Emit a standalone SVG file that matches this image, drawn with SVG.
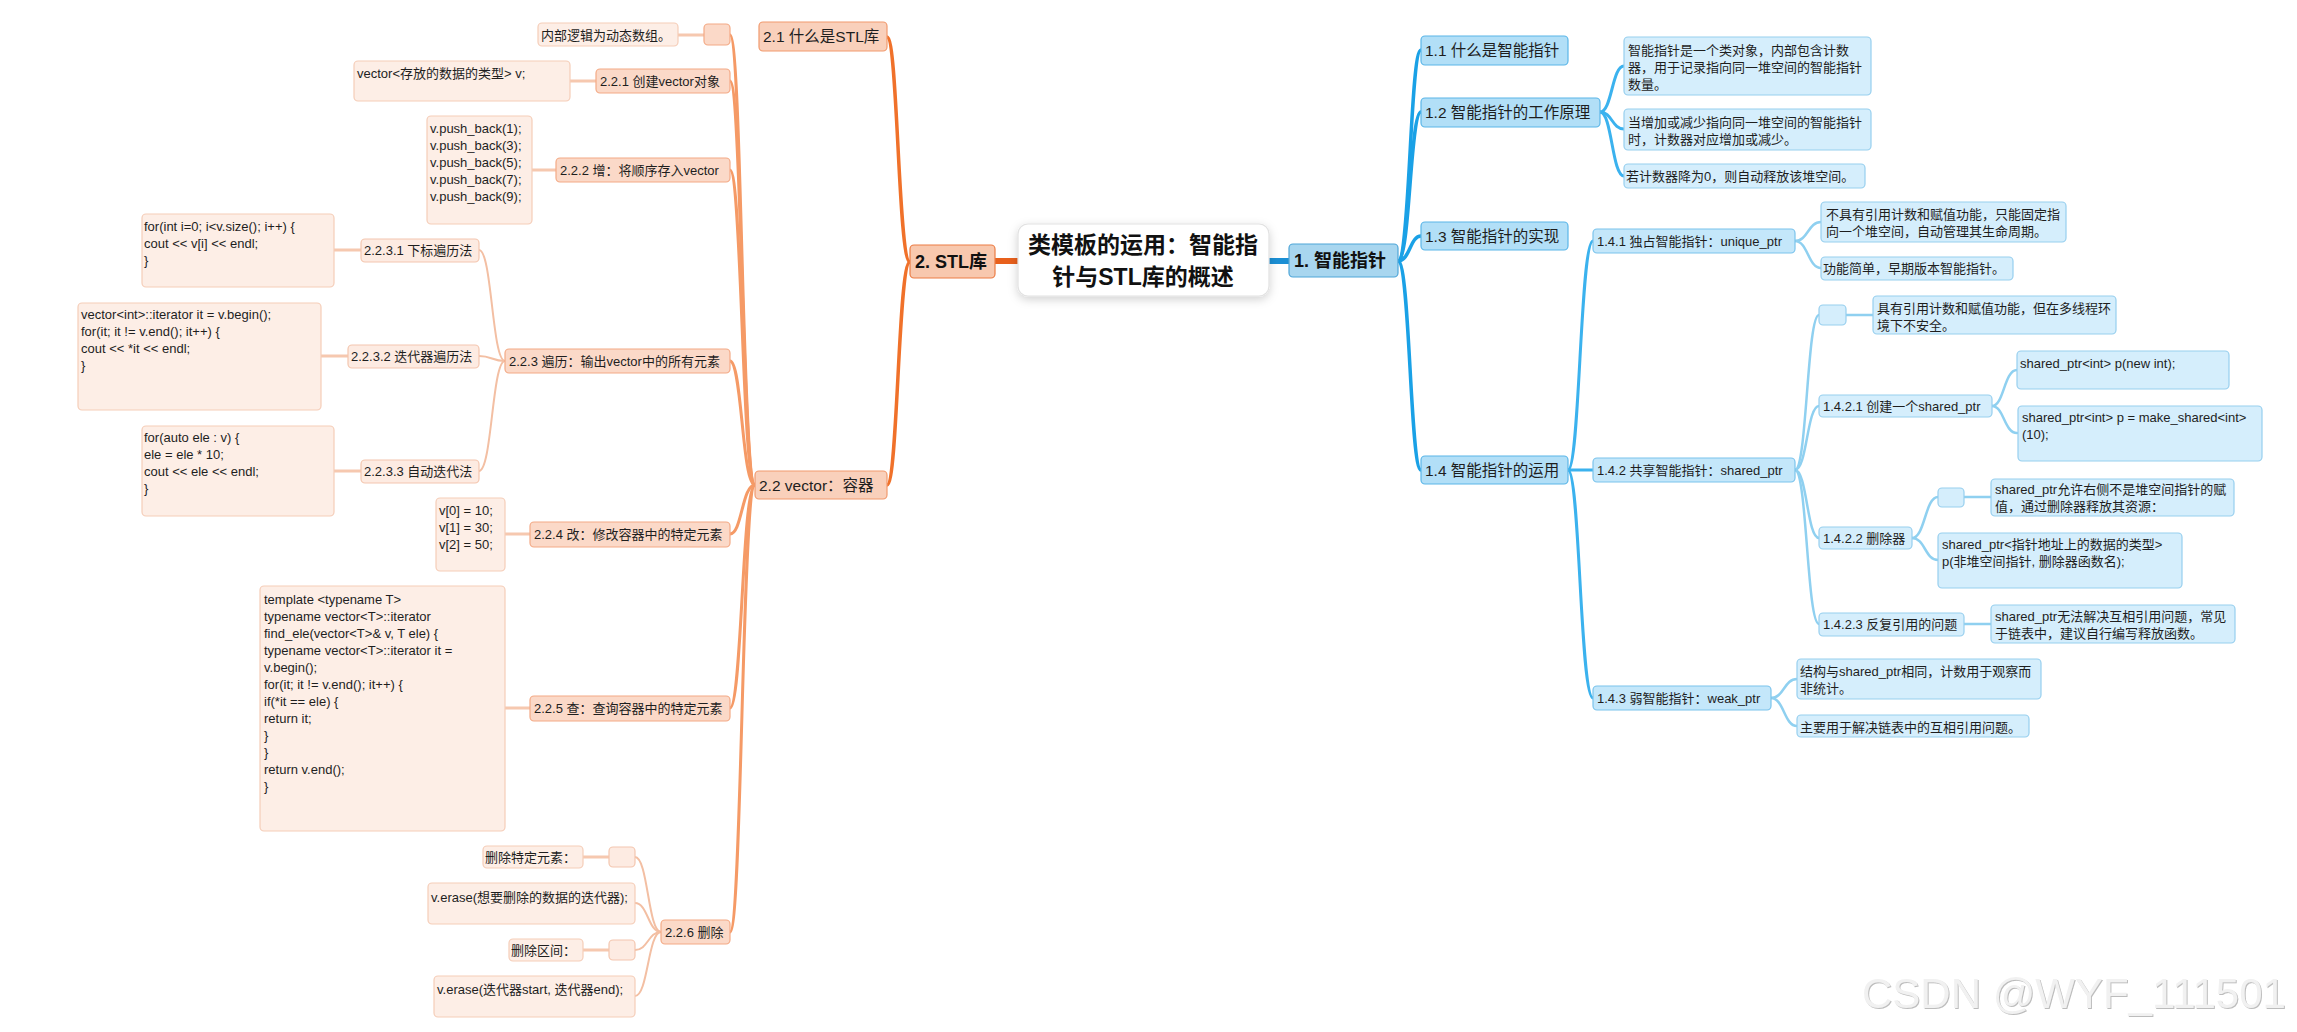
<svg xmlns="http://www.w3.org/2000/svg" width="2297" height="1032" viewBox="0 0 2297 1032">
<defs>
<filter id="sh" x="-20%" y="-30%" width="140%" height="170%"><feDropShadow dx="0" dy="3" stdDeviation="5" flood-color="#000" flood-opacity="0.18"/></filter>
<filter id="wm" x="-5%" y="-20%" width="110%" height="140%"><feDropShadow dx="1" dy="1" stdDeviation="0.6" flood-color="#b5b5b5" flood-opacity="0.9"/></filter>
<style>
text{font-family:"Liberation Sans","Noto Sans CJK SC",sans-serif;fill:#1e1e1e;font-size:13px}
.b18{font-size:18px;font-weight:bold;fill:#111}
.s15{font-size:15.5px}
.ctr{font-size:23px;font-weight:bold;fill:#111;text-anchor:middle}
rect{stroke-width:1.2}
.oL1{fill:#F8C8AE;stroke:#EC7C44}
.oL2{fill:#F9D0BB;stroke:#F19A6E}
.oL3{fill:#FBD9C8;stroke:#F3AA86}
.oL4{fill:#FDEBE2;stroke:#F4C6AF}
.oLf{fill:#FDEEE6;stroke:#F5CDB8}
.bL1{fill:#A8D6EF;stroke:#4FA6D8}
.bL2{fill:#B2DFF7;stroke:#5BB6E8}
.bL3{fill:#C4E7FA;stroke:#7AC3EC}
.bL4{fill:#D5EEFC;stroke:#97CFEE}
.c{fill:none;stroke-linecap:round}
.co0{stroke:#E8601C;stroke-width:6}
.co1{stroke:#F0712A;stroke-width:3.5}
.co2{stroke:#F59A66;stroke-width:3}
.co3{stroke:#F3BFA3;stroke-width:2}
.co4{stroke:#F6C8AF;stroke-width:3}
.cb0{stroke:#1B8FD4;stroke-width:6}
.cb1{stroke:#1AA1E6;stroke-width:3.5}
.cb2{stroke:#3BB2EE;stroke-width:3}
.cb3{stroke:#8FD0F0;stroke-width:2.5}
</style>
</defs>
<rect x="0" y="0" width="2297" height="1032" fill="#ffffff" stroke="none"/>

<g id="connectors">
<path class="c co0" d="M995 261 L1018 261"/>
<path class="c cb0" d="M1269 261 L1289 261"/>
<path class="c co1" d="M910 262 C898 262 898 37 887 37"/>
<path class="c co1" d="M910 262 C898 262 898 485 887 485"/>
<path class="c co2" d="M755 485 C742 485 742 35 730 35"/>
<path class="c co2" d="M755 485 C742 485 742 81 730 81"/>
<path class="c co2" d="M755 485 C742 485 742 170 730 170"/>
<path class="c co2" d="M755 485 C742 485 742 361 730 361"/>
<path class="c co2" d="M755 485 C742 485 742 534 730 534"/>
<path class="c co2" d="M755 485 C742 485 742 708 730 708"/>
<path class="c co2" d="M755 485 C742 485 742 932 730 932"/>
<path class="c co3" d="M505 361 C492 361 492 250 479 250"/>
<path class="c co3" d="M505 361 C492 361 492 356 479 356"/>
<path class="c co3" d="M505 361 C492 361 492 471 479 471"/>
<path class="c co3" d="M661 932 C648 932 648 857 635 857"/>
<path class="c co3" d="M661 932 C648 932 648 903 635 903"/>
<path class="c co3" d="M661 932 C648 932 648 950 635 950"/>
<path class="c co3" d="M661 932 C648 932 648 996 635 996"/>
<path class="c co4" d="M678 35 L704 35"/>
<path class="c co4" d="M570 81 L596 81"/>
<path class="c co4" d="M532 170 L556 170"/>
<path class="c co4" d="M334 250 L361 250"/>
<path class="c co4" d="M321 356 L348 356"/>
<path class="c co4" d="M334 471 L361 471"/>
<path class="c co4" d="M505 534 L530 534"/>
<path class="c co4" d="M505 708 L530 708"/>
<path class="c co4" d="M583 857 L609 857"/>
<path class="c co4" d="M583 950 L609 950"/>

<path class="c cb1" d="M1398 261 C1410 261 1410 50 1421 50"/>
<path class="c cb1" d="M1398 261 C1410 261 1410 112 1421 112"/>
<path class="c cb1" d="M1398 261 C1410 261 1410 236 1421 236"/>
<path class="c cb1" d="M1398 261 C1410 261 1410 470 1421 470"/>
<path class="c cb2" d="M1600 112 C1612 112 1612 66 1624 66"/>
<path class="c cb2" d="M1600 112 C1612 112 1612 129 1624 129"/>
<path class="c cb2" d="M1600 112 C1612 112 1612 176 1624 176"/>
<path class="c cb2" d="M1568 470 C1580 470 1580 241 1593 241"/>
<path class="c cb2" d="M1568 470 C1580 470 1580 470 1593 470"/>
<path class="c cb2" d="M1568 470 C1580 470 1580 698 1593 698"/>
<path class="c cb3" d="M1795 241 C1808 241 1808 222 1821 222"/>
<path class="c cb3" d="M1795 241 C1808 241 1808 268 1821 268"/>
<path class="c cb3" d="M1795 470 C1807 470 1807 315 1819 315"/>
<path class="c cb3" d="M1795 470 C1807 470 1807 406 1819 406"/>
<path class="c cb3" d="M1795 470 C1807 470 1807 538 1819 538"/>
<path class="c cb3" d="M1795 470 C1807 470 1807 624 1819 624"/>
<path class="c cb3" d="M1992 406 C2004 406 2004 370 2017 370"/>
<path class="c cb3" d="M1992 406 C2004 406 2004 433 2017 433"/>
<path class="c cb3" d="M1912 538 C1925 538 1925 497 1938 497"/>
<path class="c cb3" d="M1912 538 C1925 538 1925 560 1938 560"/>
<path class="c cb3" d="M1771 698 C1784 698 1784 679 1797 679"/>
<path class="c cb3" d="M1771 698 C1784 698 1784 726 1797 726"/>
<path class="c cb3" d="M1846 315 L1873 315"/>
<path class="c cb3" d="M1964 497 L1991 497"/>
<path class="c cb3" d="M1964 624 L1991 624"/>
</g>

<g id="central"><rect x="1018" y="224" width="251" height="72" rx="10" fill="#ffffff" stroke="#e2e2e2" filter="url(#sh)"/><text class="ctr" x="1143" y="253">类模板的运用：智能指</text><text class="ctr" x="1143" y="285">针与STL库的概述</text></g>

<g id="n2"><rect class="oL1" x="910" y="245" width="85" height="33" rx="4"/><text class="b18" x="915" y="268">2. STL库</text></g>
<g id="n2_1"><rect class="oL2" x="759" y="22" width="128" height="29" rx="4"/><text class="s15" x="763" y="42">2.1 什么是STL库</text></g>
<g id="n2_2"><rect class="oL2" x="755" y="471" width="132" height="28" rx="4"/><text class="s15" x="759" y="490.5">2.2 vector：容器</text></g>

<g id="e0"><rect class="oL3" x="704" y="24" width="26" height="21" rx="4"/></g>
<g id="n221"><rect class="oL3" x="596" y="69" width="134" height="24" rx="4"/><text x="600" y="85.5">2.2.1 创建vector对象</text></g>
<g id="n222"><rect class="oL3" x="556" y="158" width="174" height="24" rx="4"/><text x="560" y="174.5">2.2.2 增：将顺序存入vector</text></g>
<g id="n223"><rect class="oL3" x="505" y="349" width="225" height="24" rx="4"/><text x="509" y="365.5">2.2.3 遍历：输出vector中的所有元素</text></g>
<g id="n224"><rect class="oL3" x="530" y="522" width="200" height="25" rx="4"/><text x="534" y="539">2.2.4 改：修改容器中的特定元素</text></g>
<g id="n225"><rect class="oL3" x="530" y="696" width="200" height="25" rx="4"/><text x="534" y="713">2.2.5 查：查询容器中的特定元素</text></g>
<g id="n226"><rect class="oL3" x="661" y="920" width="69" height="24" rx="4"/><text x="665" y="936.5">2.2.6 删除</text></g>

<g id="n2231"><rect class="oL4" x="361" y="239" width="118" height="23" rx="4"/><text x="364" y="255">2.2.3.1 下标遍历法</text></g>
<g id="n2232"><rect class="oL4" x="348" y="345" width="131" height="23" rx="4"/><text x="351" y="361">2.2.3.2 迭代器遍历法</text></g>
<g id="n2233"><rect class="oL4" x="361" y="460" width="118" height="23" rx="4"/><text x="364" y="476">2.2.3.3 自动迭代法</text></g>
<g id="e1"><rect class="oL4" x="609" y="847" width="26" height="20" rx="4"/></g>
<g id="e2"><rect class="oL4" x="609" y="940" width="26" height="20" rx="4"/></g>

<g id="l0"><rect class="oLf" x="538" y="23" width="140" height="23" rx="4"/><text x="541" y="39.5">内部逻辑为动态数组。</text></g>
<g id="l221"><rect class="oLf" x="354" y="61" width="216" height="40" rx="4"/><text x="357" y="77.5">vector&lt;存放的数据的类型&gt; v;</text></g>
<g id="l222"><rect class="oLf" x="427" y="116" width="105" height="108" rx="4"/><text x="430" y="133">v.push_back(1);</text><text x="430" y="150">v.push_back(3);</text><text x="430" y="167">v.push_back(5);</text><text x="430" y="184">v.push_back(7);</text><text x="430" y="201">v.push_back(9);</text></g>
<g id="l2231"><rect class="oLf" x="142" y="214" width="192" height="73" rx="4"/><text x="144" y="230.5">for(int i=0; i&lt;v.size(); i++) {</text><text x="144" y="247.5">cout &lt;&lt; v[i] &lt;&lt; endl;</text><text x="144" y="264.5">}</text></g>
<g id="l2232"><rect class="oLf" x="78" y="303" width="243" height="107" rx="4"/><text x="81" y="318.5">vector&lt;int&gt;::iterator it = v.begin();</text><text x="81" y="335.5">for(it; it != v.end(); it++) {</text><text x="81" y="352.5">cout &lt;&lt; *it &lt;&lt; endl;</text><text x="81" y="369.5">}</text></g>
<g id="l2233"><rect class="oLf" x="142" y="426" width="192" height="90" rx="4"/><text x="144" y="441.5">for(auto ele : v) {</text><text x="144" y="458.5">ele = ele * 10;</text><text x="144" y="475.5">cout &lt;&lt; ele &lt;&lt; endl;</text><text x="144" y="492.5">}</text></g>
<g id="l224"><rect class="oLf" x="436" y="498" width="69" height="73" rx="4"/><text x="439" y="514.5">v[0] = 10;</text><text x="439" y="531.5">v[1] = 30;</text><text x="439" y="548.5">v[2] = 50;</text></g>
<g id="l225"><rect class="oLf" x="260" y="586" width="245" height="245" rx="4"/>
<text x="264" y="603.5">template &lt;typename T&gt;</text>
<text x="264" y="620.5">typename vector&lt;T&gt;::iterator</text>
<text x="264" y="637.5">find_ele(vector&lt;T&gt;&amp; v, T ele) {</text>
<text x="264" y="654.5">typename vector&lt;T&gt;::iterator it =</text>
<text x="264" y="671.5">v.begin();</text>
<text x="264" y="688.5">for(it; it != v.end(); it++) {</text>
<text x="264" y="705.5">if(*it == ele) {</text>
<text x="264" y="722.5">return it;</text>
<text x="264" y="739.5">}</text>
<text x="264" y="756.5">}</text>
<text x="264" y="773.5">return v.end();</text>
<text x="264" y="790.5">}</text></g>
<g id="l2261"><rect class="oLf" x="483" y="846" width="100" height="22" rx="4"/><text x="485" y="862">删除特定元素：</text></g>
<g id="l2262"><rect class="oLf" x="428" y="883" width="207" height="41" rx="4"/><text x="431" y="901.5">v.erase(想要删除的数据的迭代器);</text></g>
<g id="l2263"><rect class="oLf" x="509" y="939" width="74" height="22" rx="4"/><text x="511" y="955">删除区间：</text></g>
<g id="l2264"><rect class="oLf" x="434" y="976" width="201" height="41" rx="4"/><text x="437" y="993.5">v.erase(迭代器start, 迭代器end);</text></g>

<g id="n1"><rect class="bL1" x="1289" y="244" width="109" height="33" rx="4"/><text class="b18" x="1294" y="267">1. 智能指针</text></g>
<g id="n11"><rect class="bL2" x="1421" y="36" width="147" height="29" rx="4"/><text class="s15" x="1425" y="56">1.1 什么是智能指针</text></g>
<g id="n12"><rect class="bL2" x="1421" y="98" width="179" height="29" rx="4"/><text class="s15" x="1425" y="118">1.2 智能指针的工作原理</text></g>
<g id="n13"><rect class="bL2" x="1421" y="222" width="147" height="28" rx="4"/><text class="s15" x="1425" y="241.5">1.3 智能指针的实现</text></g>
<g id="n14"><rect class="bL2" x="1421" y="456" width="147" height="28" rx="4"/><text class="s15" x="1425" y="475.5">1.4 智能指针的运用</text></g>

<g id="la"><rect class="bL4" x="1624" y="37" width="247" height="58" rx="4"/><text x="1628" y="54.5">智能指针是一个类对象，内部包含计数</text><text x="1628" y="71.5">器，用于记录指向同一堆空间的智能指针</text><text x="1628" y="88.5">数量。</text></g>
<g id="lb"><rect class="bL4" x="1624" y="109" width="247" height="41" rx="4"/><text x="1628" y="126.5">当增加或减少指向同一堆空间的智能指针</text><text x="1628" y="143.5">时，计数器对应增加或减少。</text></g>
<g id="lc"><rect class="bL4" x="1624" y="164" width="241" height="24" rx="4"/><text x="1626" y="180.5">若计数器降为0，则自动释放该堆空间。</text></g>

<g id="n141"><rect class="bL3" x="1593" y="229" width="202" height="24" rx="4"/><text x="1597" y="245.5">1.4.1 独占智能指针：unique_ptr</text></g>
<g id="n142"><rect class="bL3" x="1593" y="458" width="202" height="24" rx="4"/><text x="1597" y="474.5">1.4.2 共享智能指针：shared_ptr</text></g>
<g id="n143"><rect class="bL3" x="1593" y="686" width="178" height="24" rx="4"/><text x="1597" y="702.5">1.4.3 弱智能指针：weak_ptr</text></g>

<g id="l1411"><rect class="bL4" x="1821" y="202" width="245" height="40" rx="4"/><text x="1826" y="218.5">不具有引用计数和赋值功能，只能固定指</text><text x="1826" y="236">向一个堆空间，自动管理其生命周期。</text></g>
<g id="l1412"><rect class="bL4" x="1821" y="257" width="192" height="23" rx="4"/><text x="1823" y="273">功能简单，早期版本智能指针。</text></g>
<g id="e3"><rect class="bL4" x="1819" y="305" width="27" height="20" rx="4"/></g>
<g id="l1420"><rect class="bL4" x="1873" y="296" width="243" height="38" rx="4"/><text x="1877" y="312.5">具有引用计数和赋值功能，但在多线程环</text><text x="1877" y="329.5">境下不安全。</text></g>
<g id="n1421"><rect class="bL4" x="1819" y="395" width="173" height="22" rx="4"/><text x="1823" y="410.5">1.4.2.1 创建一个shared_ptr</text></g>
<g id="l14211"><rect class="bL4" x="2017" y="351" width="212" height="38" rx="4"/><text x="2020" y="367.5">shared_ptr&lt;int&gt; p(new int);</text></g>
<g id="l14212"><rect class="bL4" x="2018" y="406" width="244" height="55" rx="4"/><text x="2022" y="421.5">shared_ptr&lt;int&gt; p = make_shared&lt;int&gt;</text><text x="2022" y="439">(10);</text></g>
<g id="n1422"><rect class="bL4" x="1819" y="527" width="93" height="22" rx="4"/><text x="1823" y="542.5">1.4.2.2 删除器</text></g>
<g id="e4"><rect class="bL4" x="1938" y="488" width="26" height="19" rx="4"/></g>
<g id="l14221"><rect class="bL4" x="1991" y="479" width="243" height="37" rx="4"/><text x="1995" y="493.5">shared_ptr允许右侧不是堆空间指针的赋</text><text x="1995" y="511">值，通过删除器释放其资源：</text></g>
<g id="l14222"><rect class="bL4" x="1938" y="533" width="244" height="55" rx="4"/><text x="1942" y="548.5">shared_ptr&lt;指针地址上的数据的类型&gt;</text><text x="1942" y="566">p(非堆空间指针, 删除器函数名);</text></g>
<g id="n1423"><rect class="bL4" x="1819" y="613" width="145" height="23" rx="4"/><text x="1823" y="629">1.4.2.3 反复引用的问题</text></g>
<g id="l14231"><rect class="bL4" x="1991" y="605" width="244" height="38" rx="4"/><text x="1995" y="620.5">shared_ptr无法解决互相引用问题，常见</text><text x="1995" y="638">于链表中，建议自行编写释放函数。</text></g>
<g id="l1431"><rect class="bL4" x="1797" y="659" width="244" height="40" rx="4"/><text x="1800" y="675.5">结构与shared_ptr相同，计数用于观察而</text><text x="1800" y="692.5">非统计。</text></g>
<g id="l1432"><rect class="bL4" x="1797" y="715" width="232" height="22" rx="4"/><text x="1800" y="731.5">主要用于解决链表中的互相引用问题。</text></g>

<text x="1862" y="1008" style="font-size:42px;fill:#f1f1f1" filter="url(#wm)">CSDN @WYF_111501</text>
</svg>
